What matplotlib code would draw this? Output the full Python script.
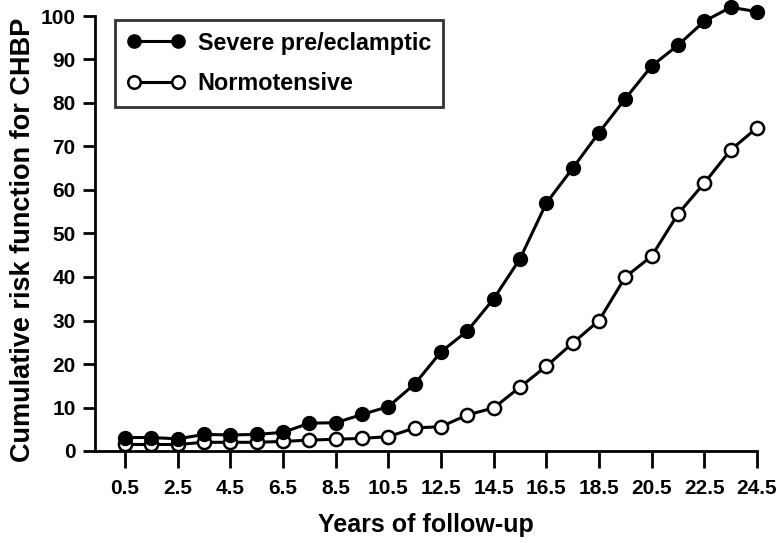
import matplotlib
matplotlib.use("Agg")
import matplotlib.pyplot as plt

years = [0.5, 1.5, 2.5, 3.5, 4.5, 5.5, 6.5, 7.5, 8.5, 9.5, 10.5, 11.5, 12.5,
         13.5, 14.5, 15.5, 16.5, 17.5, 18.5, 19.5, 20.5, 21.5, 22.5, 23.5, 24.5]
severe = [3.1, 3.1, 2.8, 3.8, 3.7, 3.8, 4.3, 6.4, 6.5, 8.4, 10.2, 15.4, 22.8,
          27.6, 35.0, 44.2, 57.0, 65.0, 73.2, 81.0, 88.5, 93.3, 98.8, 102.0, 101.0]
normo = [1.5, 1.5, 1.5, 2.0, 2.0, 2.0, 2.2, 2.5, 2.7, 2.9, 3.3, 5.3, 5.6,
         8.3, 9.9, 14.7, 19.5, 24.8, 30.0, 40.0, 44.8, 54.5, 61.6, 69.2, 74.3]
xtick_vals = [0.5, 2.5, 4.5, 6.5, 8.5, 10.5, 12.5, 14.5, 16.5, 18.5, 20.5, 22.5, 24.5]
ytick_vals = [0, 10, 20, 30, 40, 50, 60, 70, 80, 90, 100]

plt.rcParams['font.family'] = ['Liberation Sans', 'DejaVu Sans']
plt.rcParams['font.weight'] = 'bold'

W, H = 782, 543
fig = plt.figure(figsize=(W / 100, H / 100), dpi=100)
left_px, right_px, top_px, bot_px = 95, 757, 16, 451
ax = fig.add_axes([left_px / W, 1 - bot_px / H,
                   (right_px - left_px) / W, (bot_px - top_px) / H])

ax.plot(years, severe, color='black', lw=2.2, marker='o', ms=10,
        mfc='black', mec='black', clip_on=False, zorder=3,
        label='Severe pre/eclamptic')
ax.plot(years, normo, color='black', lw=2.2, marker='o', ms=9.5,
        mfc='white', mec='black', mew=1.8, clip_on=False, zorder=2,
        label='Normotensive')

ax.set_xlim(0.5 - 30 / 26.25, 24.5)
ax.set_ylim(0, 100)
ax.set_xticks(xtick_vals)
ax.set_xticklabels([str(v) for v in xtick_vals])
ax.set_yticks(ytick_vals)

for s in ['top', 'right']:
    ax.spines[s].set_visible(False)
for s in ['left', 'bottom']:
    ax.spines[s].set_linewidth(2.0)

ax.tick_params(axis='x', direction='out', width=2.0, length=12, pad=8,
               labelsize=15)
ax.tick_params(axis='y', direction='out', width=2.0, length=9, pad=5,
               labelsize=15)

ax.set_xlabel('Years of follow-up', fontsize=18, fontweight='bold', labelpad=11)
ax.set_ylabel('Cumulative risk function for CHBP', fontsize=19.5,
              fontweight='bold')
ax.yaxis.set_label_coords((36 - left_px) / (right_px - left_px),
                          (bot_px - 240) / (bot_px - top_px))

leg = ax.legend(loc='upper left',
                bbox_to_anchor=((115 - left_px) / (right_px - left_px),
                                1 - (20 - top_px) / (bot_px - top_px)),
                numpoints=2, frameon=True, fancybox=False,
                prop={'size': 16.8, 'weight': 'bold'},
                handlelength=2.5, handletextpad=0.55, borderpad=0.5,
                labelspacing=0.75, borderaxespad=0.0, markerscale=0.95)
leg.get_frame().set_edgecolor('black')
leg.get_frame().set_linewidth(2.0)

fig.savefig('out.png', dpi=100)
